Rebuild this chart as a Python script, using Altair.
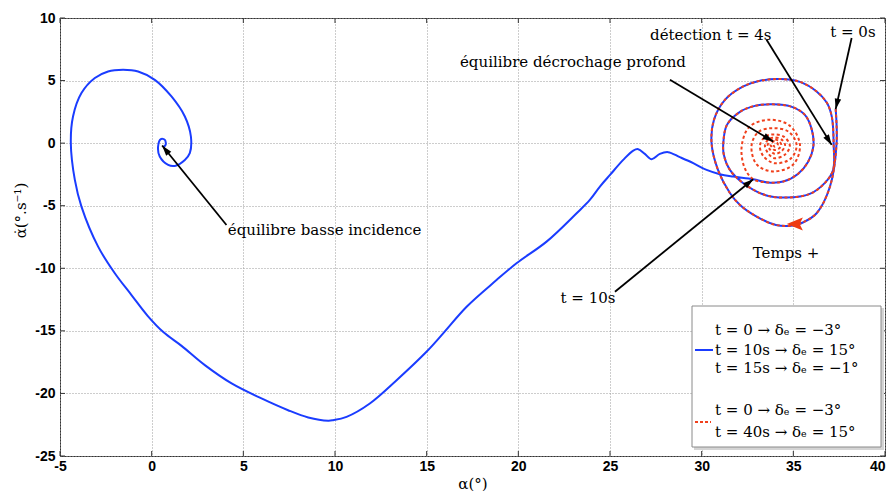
import math
import altair as alt
import pandas as pd

# ---- data ----
# common trajectory t = 0 .. 10 s (blue and red overlap)
common_alpha = [37.31, 37.36, 37.0, 36.27, 35.52, 34.98, 34.05, 33.0, 32.09, 31.54, 30.89, 30.54,
                30.67, 31.27, 32.27, 33.18, 34.27, 35.36, 36.27, 36.83, 37.1, 37.2, 37.17, 36.72,
                35.9, 34.63, 33.45, 32.27, 31.54, 31.21, 31.18, 31.38, 32.09, 32.9, 33.89, 34.92,
                35.63, 36.01, 36.09, 35.8, 35.25, 34.45, 33.61, 32.81]
common_rate = [2.72, 0.0, -3.47, -5.6, -6.34, -6.58, -6.54, -5.87, -4.94, -3.98, -2.14, 0.0,
               1.86, 3.46, 4.53, 4.98, 5.12, 4.9, 4.13, 3.22, 2.1, -0.14, -2.14, -3.18,
               -4.06, -4.35, -4.14, -3.2, -2.14, -0.94, 0.0, 1.46, 2.5, 2.98, 3.1, 2.9,
               2.26, 1.06, -0.27, -1.5, -2.46, -3.07, -3.14, -2.88]

# blue after t = 10 s
blue_alpha = [31.72, 30.99, 30.27, 29.54, 28.81, 28.17, 27.72, 27.27, 26.9, 26.54, 26.27, 25.72,
              25.0, 24.45, 23.9, 23.18, 21.54, 19.9, 18.81, 17.18, 15.9, 14.99, 13.36, 11.9,
              10.63, 9.9, 9.63, 8.54, 7.44, 5.99, 4.36, 2.9, 1.63, 0.65, -0.22, -1.1, -2.01,
              -2.92, -3.83, -4.19, -4.41, -4.29, -3.83, -3.1, -2.38, -1.56, -0.74, 0.17, 1.08,
              1.81, 2.14, 2.08, 1.81, 1.26, 0.9, 0.44, 0.35, 0.5, 0.72, 0.76, 0.62]
blue_rate = [-2.67, -2.48, -2.14, -1.6, -1.12, -0.72, -0.86, -1.28, -0.86, -0.48, -0.59, -1.34,
             -2.54, -3.47, -4.54, -5.6, -7.87, -9.6, -10.94, -13.07, -15.2, -16.67, -18.94, -20.8,
             -21.87, -22.14, -22.18, -21.92, -21.34, -20.4, -19.2, -17.74, -16.2, -15.12, -13.8,
             -12.14, -10.4, -8.27, -5.07, -2.94, 0.0, 2.13, 4.0, 5.2, 5.73, 5.86, 5.73, 5.06, 3.73,
             2.13, 0.53, -0.8, -1.34, -1.82, -1.74, -1.07, -0.27, 0.32, 0.26, -0.14, -0.32]

# red after t = 10 s (spiral into deep stall equilibrium)
red_alpha = [32.35, 32.18, 32.6, 33.7, 34.8, 35.36, 35.0, 33.9,
             33.0, 32.72, 33.1, 33.9, 34.75, 35.18, 34.85, 33.95,
             33.35, 33.18, 33.45, 33.95, 34.5, 34.81, 34.55, 33.95,
             33.6, 33.45, 33.65, 33.97, 34.35, 34.55, 34.35, 33.97,
             33.72, 33.6, 33.75, 33.97, 34.2, 34.35, 34.2, 33.97,
             33.82, 33.75, 33.85, 33.97, 34.1, 34.15, 34.05, 33.97, 33.92]
red_rate = [-2.0, -0.3, 1.3, 1.87, 1.4, -0.1, -1.7, -2.26,
            -1.7, -0.2, 0.9, 1.2, 0.9, -0.15, -1.25, -1.6,
            -1.0, -0.2, 0.5, 0.7, 0.5, -0.2, -0.9, -1.2,
            -0.75, -0.15, 0.3, 0.45, 0.3, -0.15, -0.65, -0.85,
            -0.5, -0.15, 0.18, 0.3, 0.18, -0.15, -0.45, -0.55,
            -0.3, -0.12, 0.08, 0.15, 0.05, -0.12, -0.25, -0.28, -0.15]

x_ticks = [-5, 0, 5, 10, 15, 20, 25, 30, 35, 40]
y_ticks = [-25, -20, -15, -10, -5, 0, 5, 10]

# annotations: text, alpha, rate, align
ann_text = ["équilibre basse incidence", "équilibre décrochage profond",
            "détection t = 4s", "t = 0s", "Temps +", "t = 10s"]
ann_alpha = [4.15, 22.98, 30.5, 38.25, 34.6, 23.8]
ann_rate = [-6.94, 6.5, 8.66, 8.9, -8.78, -12.38]
ann_align = ["left", "center", "center", "center", "center", "center"]

# arrows: start (alpha, rate) -> end (alpha, rate)
arr_a1 = [4.08, 28.27, 33.54, 38.18, 25.27]
arr_v1 = [-6.54, 5.06, 8.26, 8.4, -11.87]
arr_a2 = [0.57, 33.9, 37.09, 37.31, 32.81]
arr_v2 = [-0.19, 0.13, -0.14, 2.72, -2.88]

time_arrow_alpha = [34.64]
time_arrow_rate = [-6.46]

legend_lines = ["t = 0  →  δₑ = −3°", "t = 10s  →  δₑ = 15°", "t = 15s  →  δₑ = −1°",
                "t = 0  →  δₑ = −3°", "t = 40s  →  δₑ = 15°"]

# ---- layout ----
W, H = 825, 438
XMIN, XMAX, YMIN, YMAX = -5, 40, -25, 10
BLUE = "#1a3cff"
RED = "#f0401c"
SERIF = "DejaVu Serif"

xs = alt.Scale(domain=[XMIN, XMAX], nice=False, zero=False)
ys = alt.Scale(domain=[YMIN, YMAX], nice=False, zero=False)
xa = alt.Axis(values=x_ticks, grid=True, gridDash=[1, 2], gridColor="#9a9a9a", gridWidth=1,
              ticks=False, domain=False, labelFont="Liberation Sans", labelFontWeight="bold",
              labelFontSize=14, labelColor="black", labelPadding=3, labelOverlap=False,
              labelFlush=False, labelExpr="toString(datum.value)",
              labelAlign={"condition": {"test": "datum.value == 40", "value": "right"},
                          "value": "center"},
              title="α(°)", titleFont=SERIF, titleFontWeight="normal",
              titleFontSize=15, titleColor="black", titleBaseline="middle", titleY=27)
ya = alt.Axis(values=y_ticks, grid=True, gridDash=[1, 2], gridColor="#9a9a9a", gridWidth=1,
              ticks=False, domain=False, labelFont="Liberation Sans", labelFontWeight="bold",
              labelFontSize=14, labelColor="black", labelPadding=5, labelOverlap=False,
              labelFlush=False, labelExpr="toString(datum.value)",
              title="α̇(°.s⁻¹)", titleFont=SERIF, titleFontWeight="normal",
              titleFontSize=15, titleColor="black", titleAngle=270, titleAlign="center",
              titleBaseline="middle", titleX=-40, titleY=192)


def X(field="alpha"):
    return alt.X(f"{field}:Q", scale=xs, axis=xa)


def Y(field="rate"):
    return alt.Y(f"{field}:Q", scale=ys, axis=ya)


blue_df = pd.DataFrame({"alpha": common_alpha + blue_alpha, "rate": common_rate + blue_rate})
blue_df["order"] = range(len(blue_df))
red_df = pd.DataFrame({"alpha": common_alpha + red_alpha, "rate": common_rate + red_rate})
red_df["order"] = range(len(red_df))

blue_line = alt.Chart(blue_df).mark_line(color=BLUE, strokeWidth=2, interpolate="catmull-rom").encode(
    x=X(), y=Y(), order="order:Q")
red_line = alt.Chart(red_df).mark_line(color=RED, strokeWidth=2, strokeDash=[3, 2.5],
                                       interpolate="catmull-rom").encode(
    x=X(), y=Y(), order="order:Q")

# ticks (inward, on the 4 sides)
xt = pd.DataFrame({"alpha": x_ticks})
yt = pd.DataFrame({"rate": y_ticks})
tick_style = dict(color="#333", strokeWidth=1)
ticks = [
    alt.Chart(xt).mark_rule(**tick_style).encode(x=X(), y=alt.value(H), y2=alt.value(H - 5)),
    alt.Chart(xt).mark_rule(**tick_style).encode(x=X(), y=alt.value(0), y2=alt.value(5)),
    alt.Chart(yt).mark_rule(**tick_style).encode(y=Y(), x=alt.value(0), x2=alt.value(5)),
    alt.Chart(yt).mark_rule(**tick_style).encode(y=Y(), x=alt.value(W), x2=alt.value(W - 5)),
]

# arrows
def screen_angle(a1, v1, a2, v2):
    dx = (a2 - a1) * W / (XMAX - XMIN)
    dy = -(v2 - v1) * H / (YMAX - YMIN)
    return math.degrees(math.atan2(dx, -dy)) % 360


arr_df = pd.DataFrame({"alpha": arr_a1, "rate": arr_v1, "alpha2": arr_a2, "rate2": arr_v2})
arr_df["angle"] = [screen_angle(a, b, c, d) for a, b, c, d in zip(arr_a1, arr_v1, arr_a2, arr_v2)]
arrow_lines = alt.Chart(arr_df).mark_rule(color="black", strokeWidth=1.8).encode(
    x=X(), y=Y(), x2="alpha2:Q", y2="rate2:Q")
arrow_heads = alt.Chart(arr_df).mark_point(
    shape="M0,0L0.62,2L-0.62,2Z", filled=True, color="black", opacity=1, size=110).encode(
    x=X("alpha2"), y=Y("rate2"), angle=alt.Angle("angle:Q", scale=None))

time_df = pd.DataFrame({"alpha": time_arrow_alpha, "rate": time_arrow_rate})
time_head = alt.Chart(time_df).mark_point(
    shape="M0,0L0.8,2L0,1.6L-0.8,2Z", filled=True, color="#ee3a12", opacity=1, size=260,
    angle=270).encode(x=X(), y=Y())

ann_df = pd.DataFrame({"text": ann_text, "alpha": ann_alpha, "rate": ann_rate, "align": ann_align})
ann_left = alt.Chart(ann_df[ann_df["align"] == "left"]).mark_text(
    font=SERIF, fontSize=15, align="left", baseline="middle", color="black").encode(
    x=X(), y=Y(), text="text:N")
ann_center = alt.Chart(ann_df[ann_df["align"] == "center"]).mark_text(
    font=SERIF, fontSize=15, align="center", baseline="middle", color="black").encode(
    x=X(), y=Y(), text="text:N")

# legend box (pixel layout)
one = pd.DataFrame({"k": [0]})
legend_shadow = alt.Chart(one).mark_rect(color="#d4d4d4").encode(
    x=alt.value(634), x2=alt.value(824), y=alt.value(290), y2=alt.value(432))
legend_box = alt.Chart(one).mark_rect(fill="white", stroke="#8a8a8a", strokeWidth=1).encode(
    x=alt.value(632), x2=alt.value(821), y=alt.value(288), y2=alt.value(429))
legend_blue = alt.Chart(one).mark_rule(color=BLUE, strokeWidth=2).encode(
    x=alt.value(635), x2=alt.value(653), y=alt.value(332))
legend_red = alt.Chart(one).mark_rule(color=RED, strokeWidth=2, strokeDash=[3, 2]).encode(
    x=alt.value(635), x2=alt.value(651), y=alt.value(404))
leg_y = [312, 332, 350, 392, 414]
legend_texts = [
    alt.Chart(one).mark_text(font=SERIF, fontSize=15, align="left", baseline="middle",
                             color="black", text=t).encode(x=alt.value(655), y=alt.value(yy))
    for t, yy in zip(legend_lines, leg_y)
]

chart = alt.layer(
    blue_line, red_line, *ticks, arrow_lines, arrow_heads, time_head, ann_left, ann_center,
    legend_shadow, legend_box, legend_blue, legend_red, *legend_texts
).properties(
    width=W, height=H, autosize="none",
    padding={"left": 52, "top": 10, "right": 1, "bottom": 35},
    background="white",
).configure_view(stroke="#333", strokeWidth=1)

chart.save("out.html", embed_options={"renderer": "svg", "actions": False})
